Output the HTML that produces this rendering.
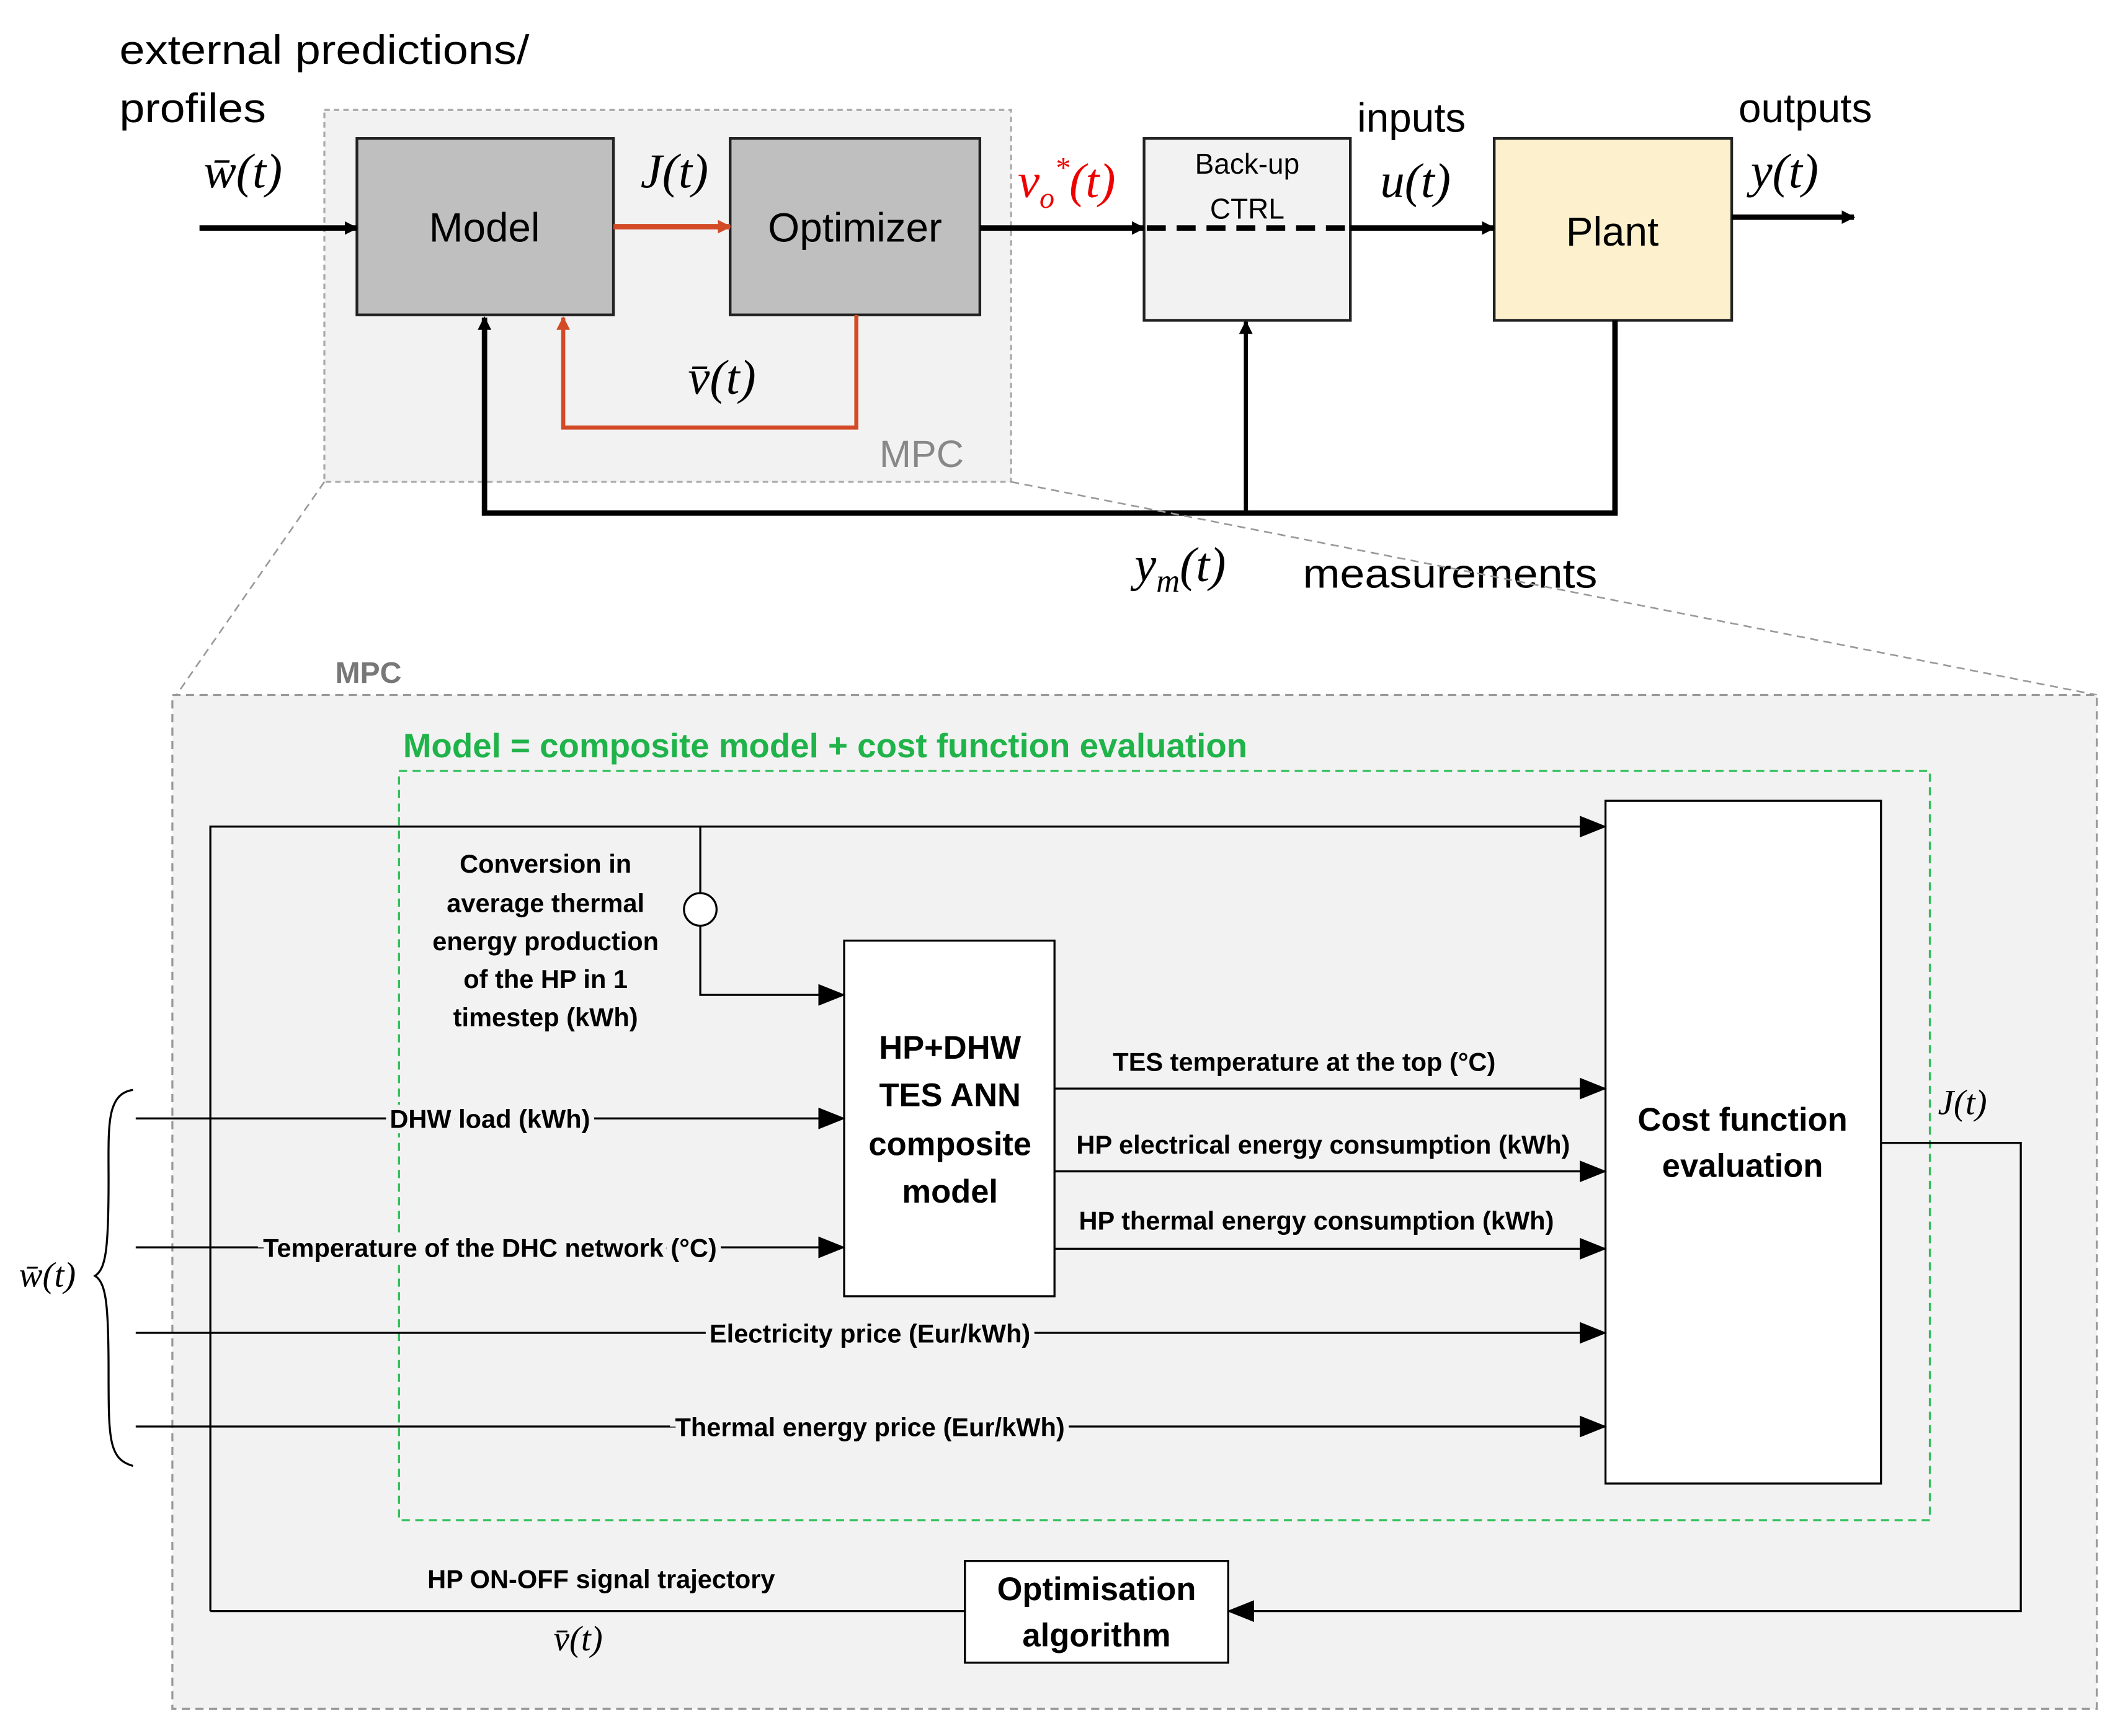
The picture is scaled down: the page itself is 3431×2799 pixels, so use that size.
<!DOCTYPE html>
<html><head><meta charset="utf-8"><style>
html,body{margin:0;padding:0;background:#fff}
svg{display:block}
text{font-family:"Liberation Sans","DejaVu Sans",sans-serif}
.m{font-family:"Liberation Serif","DejaVu Serif",serif;font-style:italic}
.bg{paint-order:stroke;stroke:#f2f2f2;stroke-width:8px}
</style></head><body>
<svg width="3431" height="2799" viewBox="0 0 1568 1279" preserveAspectRatio="none" xmlns="http://www.w3.org/2000/svg">
<defs>
<marker id="a" markerWidth="10" markerHeight="10" refX="9" refY="5" orient="auto" markerUnits="userSpaceOnUse"><path d="M0,0 L10,5 L0,10 z" fill="#000"/></marker>
<marker id="ab" markerWidth="20" markerHeight="16" refX="19" refY="8" orient="auto" markerUnits="userSpaceOnUse"><path d="M0,0 L20,8 L0,16 z" fill="#000"/></marker>
<marker id="ar" markerWidth="10" markerHeight="10" refX="9" refY="5" orient="auto" markerUnits="userSpaceOnUse"><path d="M0,0 L10,5 L0,10 z" fill="#d24a26"/></marker>
</defs>
<text x="88" y="47" font-size="30" textLength="302" lengthAdjust="spacingAndGlyphs">external predictions/</text>
<text x="88" y="90" font-size="30" textLength="108" lengthAdjust="spacingAndGlyphs">profiles</text>
<rect x="239" y="81" width="506" height="274" fill="#f2f2f2" stroke="#aaa" stroke-width="1.5" stroke-dasharray="4,3"/>
<text x="648" y="344" font-size="28" fill="#888">MPC</text>
<rect x="263" y="102" width="189" height="130" fill="#bfbfbf" stroke="#222" stroke-width="2"/>
<text x="357" y="178" font-size="30" text-anchor="middle">Model</text>
<rect x="538" y="102" width="184" height="130" fill="#bfbfbf" stroke="#222" stroke-width="2"/>
<text x="630" y="178" font-size="30" text-anchor="middle">Optimizer</text>
<rect x="843" y="102" width="152" height="134" fill="#f2f2f2" stroke="#222" stroke-width="2"/>
<text x="919" y="128" font-size="21" text-anchor="middle">Back-up</text>
<text x="919" y="161" font-size="21" text-anchor="middle">CTRL</text>
<rect x="1101" y="102" width="175" height="134" fill="#fcf1cc" stroke="#222" stroke-width="2"/>
<text x="1188" y="181" font-size="30" text-anchor="middle">Plant</text>
<line x1="147" y1="168" x2="263" y2="168" stroke="#000" stroke-width="4" marker-end="url(#a)"/>
<line x1="452" y1="167" x2="538" y2="167" stroke="#d24a26" stroke-width="4" marker-end="url(#ar)"/>
<line x1="722" y1="168" x2="843" y2="168" stroke="#000" stroke-width="4" marker-end="url(#a)"/>
<line x1="845" y1="168" x2="995" y2="168" stroke="#000" stroke-width="4" stroke-dasharray="14,8"/>
<line x1="995" y1="168" x2="1101" y2="168" stroke="#000" stroke-width="4" marker-end="url(#a)"/>
<line x1="1276" y1="160" x2="1366" y2="160" stroke="#000" stroke-width="4" marker-end="url(#a)"/>
<polyline points="631,232 631,315 415,315 415,234" fill="none" stroke="#d24a26" stroke-width="3" marker-end="url(#ar)"/>
<polyline points="1190,236 1190,378 357,378 357,234" fill="none" stroke="#000" stroke-width="4" marker-end="url(#a)"/>
<line x1="918" y1="378" x2="918" y2="237" stroke="#000" stroke-width="3" marker-end="url(#a)"/>
<text x="150" y="138" font-size="36" class="m">w̄(t)</text>
<text x="472" y="138" font-size="36" class="m">J(t)</text>
<text x="750" y="145" font-size="36" class="m" fill="#e00">v<tspan font-size="22" dy="8">o</tspan><tspan font-size="22" dy="-22">*</tspan><tspan dy="14">(t)</tspan></text>
<text x="1000" y="97" font-size="30">inputs</text>
<text x="1017" y="145" font-size="36" class="m">u(t)</text>
<text x="1281" y="90" font-size="30">outputs</text>
<text x="1290" y="138" font-size="36" class="m">y(t)</text>
<text x="507" y="290" font-size="36" class="m">v̄(t)</text>
<text x="836" y="428" font-size="36" class="m">y<tspan font-size="24" dy="8">m</tspan><tspan dy="-8">(t)</tspan></text>
<text x="960" y="433" font-size="30" textLength="217" lengthAdjust="spacingAndGlyphs">measurements</text>
<line x1="239" y1="355" x2="130" y2="512" stroke="#999" stroke-width="1.2" stroke-dasharray="6,4"/>
<line x1="745" y1="355" x2="1545" y2="512" stroke="#999" stroke-width="1.2" stroke-dasharray="6,4"/>
<text x="247" y="503" font-size="22" fill="#777" font-weight="bold">MPC</text>
<rect x="127" y="512" width="1418" height="747" fill="#f2f2f2" stroke="#999" stroke-width="1.5" stroke-dasharray="6,4"/>
<text x="297" y="558" font-size="25" fill="#1fb34a" font-weight="bold">Model = composite model + cost function evaluation</text>
<rect x="294" y="568" width="1128" height="552" fill="none" stroke="#2fbf5a" stroke-width="1.5" stroke-dasharray="6,4"/>
<rect x="1183" y="590" width="203" height="503" fill="#fff" stroke="#000" stroke-width="1.5"/>
<text x="1284" y="833" font-size="24" text-anchor="middle" font-weight="bold">Cost function</text>
<text x="1284" y="867" font-size="24" text-anchor="middle" font-weight="bold">evaluation</text>
<rect x="622" y="693" width="155" height="262" fill="#fff" stroke="#000" stroke-width="1.5"/>
<g font-size="24" text-anchor="middle" font-weight="bold">
<text x="700" y="780">HP+DHW</text><text x="700" y="815">TES ANN</text><text x="700" y="851">composite</text><text x="700" y="886">model</text></g>
<rect x="711" y="1150" width="194" height="75" fill="#fff" stroke="#000" stroke-width="1.5"/>
<text x="808" y="1179" font-size="24" text-anchor="middle" font-weight="bold">Optimisation</text>
<text x="808" y="1213" font-size="24" text-anchor="middle" font-weight="bold">algorithm</text>
<g stroke="#000" stroke-width="1.5" fill="none">
<polyline points="155,1187 155,609 1183,609" marker-end="url(#ab)"/>
<polyline points="516,609 516,658"/>
<circle cx="516" cy="670" r="12" fill="#fff"/>
<polyline points="516,682 516,733 622,733" marker-end="url(#ab)"/>
<line x1="100" y1="824" x2="622" y2="824" marker-end="url(#ab)"/>
<line x1="100" y1="919" x2="622" y2="919" marker-end="url(#ab)"/>
<line x1="100" y1="982" x2="1183" y2="982" marker-end="url(#ab)"/>
<line x1="100" y1="1051" x2="1183" y2="1051" marker-end="url(#ab)"/>
<line x1="777" y1="802" x2="1183" y2="802" marker-end="url(#ab)"/>
<line x1="777" y1="863" x2="1183" y2="863" marker-end="url(#ab)"/>
<line x1="777" y1="920" x2="1183" y2="920" marker-end="url(#ab)"/>
<polyline points="1386,842 1489,842 1489,1187 905,1187" marker-end="url(#ab)"/>
<line x1="711" y1="1187" x2="155" y2="1187"/>
<path d="M98,803 C78,806 80,830 80,870 C80,920 78,935 70,940 C78,945 80,960 80,1010 C80,1060 80,1075 98,1080"/>
</g>
<g font-size="19" text-anchor="middle" font-weight="bold">
<text x="402" y="643">Conversion in</text><text x="402" y="672">average thermal</text><text x="402" y="700">energy production</text><text x="402" y="728">of the HP in 1</text><text x="402" y="756">timestep (kWh)</text>
</g>
<g font-size="19" text-anchor="middle" font-weight="bold">
<text class="bg" x="361" y="831">DHW load  (kWh)</text>
<text class="bg" x="361" y="926">Temperature of the DHC network (°C)</text>
<text class="bg" x="641" y="989">Electricity price (Eur/kWh)</text>
<text class="bg" x="641" y="1058">Thermal energy price (Eur/kWh)</text>
<text x="961" y="789">TES temperature at the top  (°C)</text>
<text x="975" y="850">HP electrical energy consumption (kWh)</text>
<text x="970" y="906">HP thermal energy consumption (kWh)</text>
<text x="443" y="1170">HP ON-OFF signal trajectory</text>
</g>
<text x="1428" y="821" font-size="26" class="m">J(t)</text>
<text x="14" y="948" font-size="26" class="m">w̄(t)</text>
<text x="408" y="1216" font-size="26" class="m">v̄(t)</text>
</svg>
</body></html>
